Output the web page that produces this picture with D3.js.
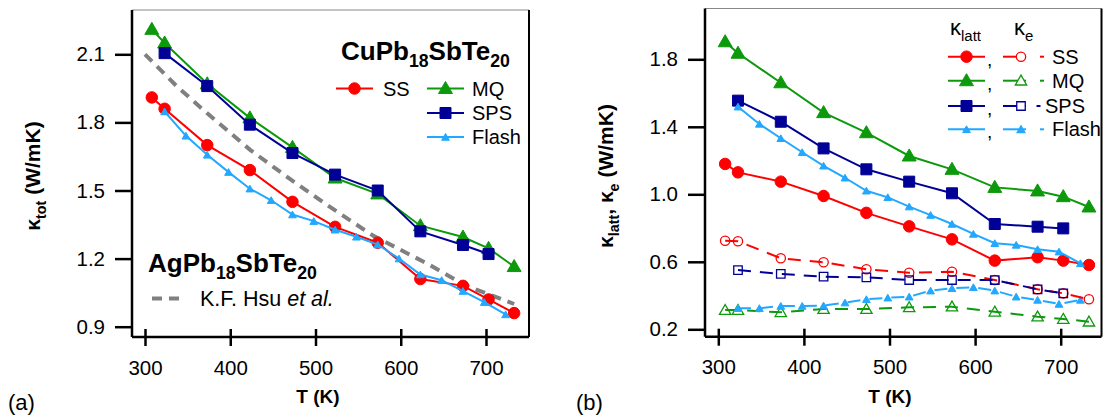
<!DOCTYPE html>
<html><head><meta charset="utf-8">
<script src="https://cdn.jsdelivr.net/npm/d3@7"></script>
<style>
body{margin:0;background:#fff;}
svg{display:block;font-family:"Liberation Sans",Arial,sans-serif;}
</style></head>
<body>
<svg id="c" width="1106" height="418"></svg>
<script>
// ---------- data ----------
const T11 = [308,323,373,423,473,523,573,623,673,703,733];
const T9  = [323,373,423,473,523,573,623,673,703];
const T17 = [323,348,373,398,423,448,473,498,523,548,573,598,623,648,673,698,723];

// panel (a): total thermal conductivity
const totSS    = [1.91,1.86,1.70,1.59,1.45,1.34,1.27,1.11,1.08,1.02,0.96];
const totMQ    = [2.21,2.15,1.97,1.82,1.69,1.555,1.485,1.345,1.295,1.245,1.165];
const totSPS   = [2.105,1.96,1.79,1.665,1.57,1.50,1.32,1.26,1.22];
const totFlash = [1.848,1.741,1.657,1.581,1.508,1.457,1.394,1.365,1.327,1.296,1.262,1.20,1.13,1.105,1.057,1.008,0.954];
const hsuT     = [300,337,373,423,474,520,568,630,677,733];
const hsuVal   = [2.10,1.96,1.84,1.68,1.54,1.42,1.30,1.18,1.08,1.00];

// panel (b): lattice and electronic parts
const lattSS    = [1.18,1.13,1.075,0.99,0.89,0.81,0.733,0.607,0.627,0.607,0.581];
const lattMQ    = [1.904,1.836,1.661,1.484,1.365,1.227,1.148,1.041,1.02,0.986,0.925];
const lattSPS   = [1.555,1.43,1.272,1.148,1.075,1.006,0.824,0.808,0.798];
const lattFlash = [1.519,1.417,1.332,1.249,1.169,1.098,1.021,0.982,0.927,0.877,0.824,0.765,0.71,0.70,0.674,0.66,0.591];
const eSS    = [0.725,0.722,0.621,0.597,0.556,0.535,0.541,0.492,0.437,0.413,0.378];
const eMQ    = [0.314,0.314,0.301,0.32,0.32,0.33,0.334,0.304,0.275,0.261,0.245];
const eSPS   = [0.551,0.528,0.512,0.508,0.492,0.492,0.492,0.437,0.413];
const eFlash = [0.325,0.325,0.338,0.338,0.34,0.358,0.378,0.387,0.393,0.429,0.443,0.449,0.429,0.393,0.374,0.35,0.374];

const xTicks  = [300,400,500,600,700];
const yTicksA = [0.9,1.2,1.5,1.8,2.1];
const yTicksB = [0.2,0.6,1.0,1.4,1.8];
const seriesNames = ["SS","MQ","SPS","Flash"];

// ---------- styles ----------
const C = {SS:"#ff0000", MQ:"#0c9a0c", SPS:"#000096", Flash:"#22a8ff", hsu:"#808080"};
const FONT = "Liberation Sans, Arial, sans-serif";
const svg = d3.select("#c");
const zip = (xs, ys) => xs.map((x,i)=>[x, ys[i]]);

function symbolPath(kind, open){
  const map = {
    circle:[d3.symbolCircle, open?68:104],
    tri:[d3.symbolTriangle, open?56:84],
    square:[d3.symbolSquare, open?72:121],
    small:[d3.symbolTriangle, open?22:26]
  };
  const m = map[kind];
  return d3.symbol().type(m[0]).size(m[1])();
}

function drawSeries(g, x, y, data, color, kind, opts={}){
  const line = d3.line().x(d=>x(d[0])).y(d=>y(d[1]));
  g.append("path").datum(data).attr("d", line)
    .attr("fill","none").attr("stroke",color).attr("stroke-width",opts.lw||2)
    .attr("stroke-dasharray", opts.dash||null);
  if(kind){
    g.selectAll(null).data(data).enter().append("path")
      .attr("d", symbolPath(kind, opts.open))
      .attr("transform", d=>`translate(${x(d[0])},${y(d[1]) + (kind==="tri"||kind==="small"?1:0)})`)
      .attr("fill", opts.open? "none" : color)
      .attr("stroke", color).attr("stroke-width", opts.open?1.3:1);
  }
}

function panel(cfg){
  const g = svg.append("g");
  const x = d3.scaleLinear().domain([300,700]).range(cfg.xr);
  const y = d3.scaleLinear().domain(cfg.yd).range(cfg.yr);
  g.append("line").attr("x1",cfg.fx0).attr("x2",cfg.fx1).attr("y1",cfg.fy0).attr("y2",cfg.fy0)
    .attr("stroke","#888").attr("stroke-width",1.2);
  g.append("line").attr("x1",cfg.fx1).attr("x2",cfg.fx1).attr("y1",cfg.fy0).attr("y2",cfg.fy1)
    .attr("stroke","#000").attr("stroke-width",2);
  const ax = g.append("g").attr("transform",`translate(0,${cfg.fy1})`)
    .call(d3.axisBottom(x).tickValues(xTicks).tickFormat(d3.format("d")).tickSize(9).tickSizeOuter(0).tickPadding(14));
  ax.select(".domain").attr("d",`M${cfg.fx0},0H${cfg.fx1}`).attr("stroke-width",2.5);
  ax.selectAll(".tick line").attr("y1",-8).attr("stroke-width",2.5);
  ax.selectAll(".tick text").attr("font-size",20.5).attr("fill","#000").attr("font-family",FONT);
  const ay = g.append("g").attr("transform",`translate(${cfg.fx0},0)`)
    .call(d3.axisLeft(y).tickValues(cfg.yt).tickFormat(d3.format(".1f")).tickSize(17).tickSizeOuter(0).tickPadding(10));
  ay.select(".domain").attr("d",`M0,${cfg.fy0}V${cfg.fy1}`).attr("stroke-width",2.5);
  ay.selectAll(".tick line").attr("stroke-width",2.5);
  ay.selectAll(".tick text").attr("font-size",20.5).attr("fill","#000").attr("font-family",FONT);
  return {g,x,y};
}

// ---------- panel (a) ----------
const A = panel({xr:[145,486], yd:[0.9,2.1], yr:[326.7,54.3], yt:yTicksA, fx0:132, fx1:529, fy0:10, fy1:337});
drawSeries(A.g, A.x, A.y, zip(hsuT,hsuVal), C.hsu, null, {lw:4, dash:"10,7"});
drawSeries(A.g, A.x, A.y, zip(T11,totSS), C.SS, "circle");
drawSeries(A.g, A.x, A.y, zip(T11,totMQ), C.MQ, "tri");
drawSeries(A.g, A.x, A.y, zip(T9,totSPS), C.SPS, "square");
drawSeries(A.g, A.x, A.y, zip(T17,totFlash), C.Flash, "small");

// ---------- panel (b) ----------
const B = panel({xr:[718.3,1060.7], yd:[0.2,1.8], yr:[329.3,59.3], yt:yTicksB, fx0:705, fx1:1101.5, fy0:8.5, fy1:336.7});
const dashE = "13,9";
drawSeries(B.g, B.x, B.y, zip(T11,eMQ), C.MQ, "tri", {open:true, dash:dashE});
drawSeries(B.g, B.x, B.y, zip(T17,eFlash), C.Flash, "small", {dash:dashE});
drawSeries(B.g, B.x, B.y, zip(T11,eSS), C.SS, "circle", {open:true, dash:dashE});
drawSeries(B.g, B.x, B.y, zip(T9,eSPS), C.SPS, "square", {open:true, dash:dashE});
drawSeries(B.g, B.x, B.y, zip(T11,lattSS), C.SS, "circle");
drawSeries(B.g, B.x, B.y, zip(T11,lattMQ), C.MQ, "tri");
drawSeries(B.g, B.x, B.y, zip(T9,lattSPS), C.SPS, "square");
drawSeries(B.g, B.x, B.y, zip(T17,lattFlash), C.Flash, "small");

// ---------- text helpers ----------
function subText(g, x, y, parts, size, weight, anchor){
  const t = g.append("text").attr("x",x).attr("y",y).attr("font-size",size)
    .attr("font-weight",weight||"normal").attr("text-anchor",anchor||"start");
  let shifted = 0;
  parts.forEach(p=>{
    const sp = t.append("tspan").text(p.t);
    if(p.sub){ sp.attr("font-size", size*0.68); if(!shifted){sp.attr("dy", size*0.28); shifted=1;} }
    else if(shifted){ sp.attr("dy", -size*0.28); shifted=0; }
    if(p.it) sp.attr("font-style","italic");
  });
  return t;
}
function legendSample(g, x0, x1, y, color, kind, open, dash, lw){
  g.append("line").attr("x1",x0).attr("x2",x1).attr("y1",y).attr("y2",y)
   .attr("stroke",color).attr("stroke-width",lw||2).attr("stroke-dasharray",dash||null);
  if(kind) g.append("path").attr("d",symbolPath(kind,open))
    .attr("transform",`translate(${(x0+x1)/2},${y+(kind==="tri"||kind==="small"?1:0)})`)
    .attr("fill",open?"#fff":color).attr("stroke",color).attr("stroke-width",open?1.3:1);
}

// ---------- panel (a) labels ----------
const L = svg.append("g");
subText(L, 341, 60, [{t:"CuPb"},{t:"18",sub:1},{t:"SbTe"},{t:"20",sub:1}], 26, "bold");
const kindOf = {SS:"circle", MQ:"tri", SPS:"square", Flash:"small"};
const legA = [
  {n:"SS", x0:336, y:88.5}, {n:"MQ", x0:427, y:88.5},
  {n:"SPS", x0:427, y:113}, {n:"Flash", x0:427, y:137}
];
legA.forEach(d=>{
  legendSample(L, d.x0, d.x0+37, d.y, C[d.n], kindOf[d.n], false);
  L.append("text").attr("x",d.x0+(d.n==="SS"?47:45)).attr("y",d.y+7).attr("font-size",20).text(d.n);
});
subText(L, 148, 272, [{t:"AgPb"},{t:"18",sub:1},{t:"SbTe"},{t:"20",sub:1}], 26, "bold");
legendSample(L, 152, 185, 298.5, C.hsu, null, false, "10,7", 4);
subText(L, 200, 306, [{t:"K.F. Hsu "},{t:"et al.",it:1}], 21.5, "normal");

// axis titles
subText(L, 318, 403, [{t:"T (K)"}], 19, "bold", "middle");
subText(L, 890, 403, [{t:"T (K)"}], 19, "bold", "middle");
subText(L, 0, 0, [{t:"κ"},{t:"tot",sub:1},{t:" (W/mK)"}], 21, "bold", "middle")
  .attr("transform","translate(40,176) rotate(-90)");
subText(L, 0, 0, [{t:"κ"},{t:"latt",sub:1},{t:", κ"},{t:"e",sub:1},{t:" (W/mK)"}], 21, "bold", "middle")
  .attr("transform","translate(613,176) rotate(-90)");
L.append("text").attr("x",8).attr("y",410).attr("font-size",22).text("(a)");
L.append("text").attr("x",576).attr("y",410).attr("font-size",22).text("(b)");

// ---------- panel (b) legend ----------
subText(L, 950, 35, [{t:"κ"},{t:"latt",sub:1}], 22, "normal");
subText(L, 1014, 35, [{t:"κ"},{t:"e",sub:1}], 22, "normal");
const rowsB = [56.7, 80.7, 106, 129.3];
seriesNames.forEach((n,i)=>{
  const y = rowsB[i];
  legendSample(L, 948, 985, y, C[n], kindOf[n], false);
  L.append("text").attr("x",987).attr("y",y+9).attr("font-size",19).text(",");
  const open = n!=="Flash";
  L.append("line").attr("x1",1003).attr("x2",1026).attr("y1",y).attr("y2",y).attr("stroke",C[n]).attr("stroke-width",2);
  L.append("path").attr("d",symbolPath(kindOf[n],open)).attr("transform",`translate(1021,${y+(kindOf[n]==="tri"||kindOf[n]==="small"?1:0)})`)
    .attr("fill",open?"#fff":C[n]).attr("stroke",C[n]).attr("stroke-width",1.3);
  const dx = n==="SPS" ? 1036.5 : 1040;
  L.append("line").attr("x1",dx).attr("x2",dx+4).attr("y1",y).attr("y2",y).attr("stroke",C[n]).attr("stroke-width",2);
  L.append("text").attr("x", n==="SPS"?1045:1052).attr("y",y+7).attr("font-size",20).text(n);
});
</script>
</body></html>
